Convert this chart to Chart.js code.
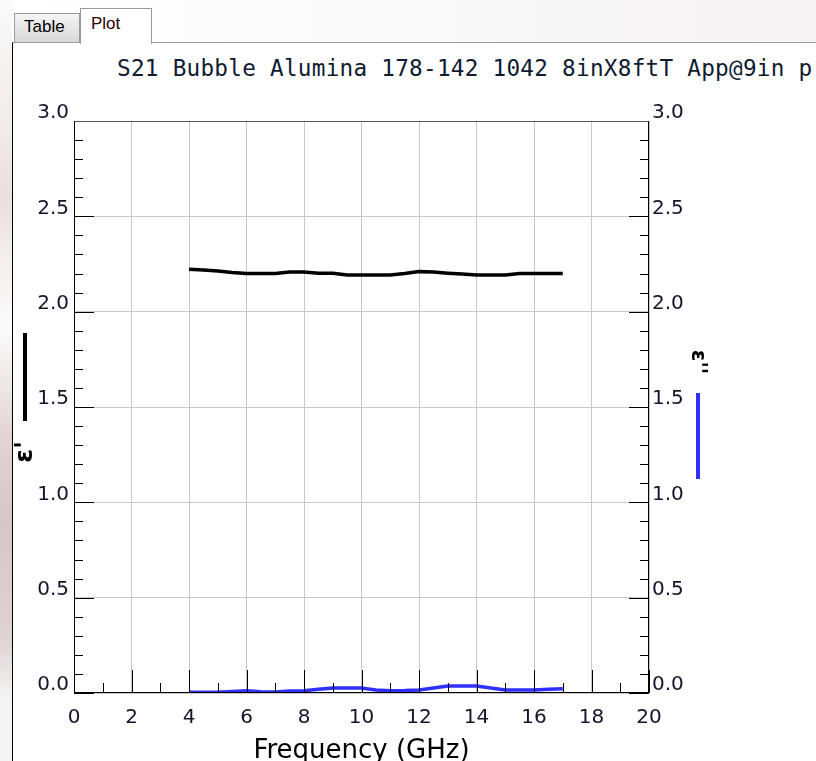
<!DOCTYPE html>
<html lang="en">
<head>
<meta charset="UTF-8">
<title>S21 Bubble Alumina plot</title>
<script src="https://cdn.jsdelivr.net/npm/chart.js@4.4.0/dist/chart.umd.min.js"></script>
<style>
  html, body { margin: 0; padding: 0; }
  body { width: 816px; height: 761px; overflow: hidden; position: relative; background: #fff;
         font-family: "Liberation Sans", Arial, sans-serif; }
  .edge { position: absolute; left: 0; top: 0; width: 12px; height: 761px;
          background: linear-gradient(to bottom, #fafafa 0px, #f2eaea 130px, #ebdede 200px, #f5efef 260px,
                      #fbfbfb 330px, #e4d6d6 430px, #d6c6c6 520px, #e0d3d3 640px, #f4f4f4 700px); }
  .strip { position: absolute; left: 12px; top: 0; width: 804px; height: 42px;
           background: linear-gradient(to right, #ffffff, #f5f3f3); }
  .panel { position: absolute; left: 12px; top: 42px; width: 820px; height: 740px; background: #fff;
           border-left: 1px solid #000; border-top: 1px solid #a0a0a0; }
  .tab { position: absolute; border: 1px solid #9a9a9a; border-bottom: none; font-size: 17px; color: #000;
         box-sizing: border-box; }
  .tab.table { left: 14px; top: 13px; width: 66px; height: 29px; padding-left: 9px; line-height: 26px;
               background: linear-gradient(#f4f4f4, #d8d8d8); }
  .tab.plot { left: 80px; top: 8px; width: 72px; height: 36px; padding-left: 10px; line-height: 30px;
              background: #fff; color: #2a0000; z-index: 2; }
  .title { position: absolute; left: 117px; top: 57px; white-space: nowrap; letter-spacing: 0.25px;
           font-family: "DejaVu Sans Mono", "Liberation Mono", monospace; font-size: 22.7px; line-height: 22.7px;
           color: #101a30; z-index: 3; }
  canvas { position: absolute; left: 0; top: 0; z-index: 4; }
</style>
</head>
<body>
  <div class="edge"></div>
  <div class="strip"></div>
  <div class="panel"></div>
  <div class="tab table">Table</div>
  <div class="tab plot">Plot</div>
  <div class="title">S21 Bubble Alumina 178-142 1042 8inX8ftT App@9in p</div>
  <canvas id="myChart" width="816" height="761"></canvas>

<script>
// frequency points (GHz)
var freqGHz = [4, 4.5, 5, 5.5, 6, 6.5, 7, 7.5, 8, 8.5, 9, 9.5, 10, 10.5, 11,
               11.5, 12, 12.5, 13, 13.5, 14, 14.5, 15, 15.5, 16, 16.5, 17];
// e' (real permittivity)
var epsReal = [2.223, 2.218, 2.213, 2.205, 2.200, 2.200, 2.200, 2.208, 2.208, 2.202, 2.202, 2.192, 2.192, 2.192,
               2.192, 2.200, 2.210, 2.208, 2.202, 2.197, 2.192, 2.192, 2.192, 2.200, 2.200, 2.200, 2.200];
// e'' (imaginary permittivity)
var epsImag = [0.004, 0.004, 0.004, 0.008, 0.012, 0.006, 0.005, 0.010, 0.012, 0.020, 0.026, 0.026, 0.026, 0.016,
               0.012, 0.013, 0.016, 0.026, 0.037, 0.037, 0.037, 0.026, 0.016, 0.016, 0.016, 0.020, 0.022];

var xTickValues = [0, 2, 4, 6, 8, 10, 12, 14, 16, 18, 20];
var yTickValues = [0.0, 0.5, 1.0, 1.5, 2.0, 2.5, 3.0];

var tickFont = { family: 'DejaVu Sans', size: 20 };
var tickColor = '#14142a';

function pts(ys) {
  return freqGHz.map(function (f, i) { return { x: f, y: ys[i] }; });
}

function setTicks(values) {
  return function (scale) {
    scale.ticks = values.map(function (v) { return { value: v }; });
  };
}

// inward tick marks, plot frame and the axis legends
var frameTicks = {
  id: 'frameTicks',
  afterDraw: function (chart) {
    var ctx = chart.ctx, a = chart.chartArea;
    var xs = chart.scales.x, ys = chart.scales.y;
    ctx.save();
    ctx.strokeStyle = '#000';
    ctx.lineWidth = 1;
    ctx.beginPath();
    for (var i = 0; i <= 30; i++) {
      var py = Math.round(ys.getPixelForValue(i / 10)) + 0.5;
      var len = (i % 5 === 0) ? 20 : 9;
      ctx.moveTo(a.left, py); ctx.lineTo(a.left + len, py);
      ctx.moveTo(a.right, py); ctx.lineTo(a.right - len, py);
    }
    for (var j = 0; j <= 20; j++) {
      var px = Math.round(xs.getPixelForValue(j)) + 0.5;
      var l2 = (j % 2 === 0) ? 23 : 10;
      ctx.moveTo(px, a.bottom); ctx.lineTo(px, a.bottom - l2);
    }
    ctx.stroke();

    // frame
    var L = Math.round(a.left) + 0.5, R = Math.round(a.right) - 0.5;
    var T = Math.round(a.top) + 0.5, B = Math.round(a.bottom) - 0.5;
    ctx.strokeStyle = '#555';
    ctx.beginPath(); ctx.moveTo(L, T); ctx.lineTo(R, T); ctx.stroke();
    ctx.strokeStyle = '#000';
    ctx.beginPath();
    ctx.moveTo(L, T); ctx.lineTo(L, B); ctx.lineTo(R, B); ctx.lineTo(R, T);
    ctx.stroke();

    // left axis legend: black swatch + e'
    ctx.lineWidth = 4;
    ctx.strokeStyle = '#000';
    ctx.beginPath(); ctx.moveTo(25, 333); ctx.lineTo(25, 421); ctx.stroke();
    ctx.fillStyle = '#000';
    ctx.font = 'bold 25px "DejaVu Sans"';
    ctx.textAlign = 'center';
    ctx.textBaseline = 'alphabetic';
    ctx.save();
    ctx.translate(32, 452);
    ctx.rotate(-Math.PI / 2);
    ctx.fillText("\u03b5'", 0, 0);
    ctx.restore();

    // right axis legend: e'' + blue swatch
    ctx.save();
    ctx.translate(692, 362);
    ctx.rotate(Math.PI / 2);
    ctx.font = 'bold 21px "DejaVu Sans"';
    ctx.fillText("\u03b5''", 0, 0);
    ctx.restore();
    ctx.strokeStyle = '#2f2fff';
    ctx.beginPath(); ctx.moveTo(698, 393); ctx.lineTo(698, 479); ctx.stroke();
    ctx.restore();
  }
};

var ctx = document.getElementById('myChart').getContext('2d');

var myChart = new Chart(ctx, {
  type: 'line',
  data: {
    datasets: [{
      label: "\u03b5'",
      data: pts(epsReal),
      borderColor: '#000',
      borderWidth: 3.5,
      pointRadius: 0,
      yAxisID: 'y'
    }, {
      label: "\u03b5''",
      data: pts(epsImag),
      borderColor: '#2f2fff',
      borderWidth: 3.5,
      pointRadius: 0,
      yAxisID: 'y2'
    }]
  },
  options: {
    responsive: false,
    animation: false,
    layout: { padding: { top: 121, left: 0, right: 0, bottom: 0 } },
    plugins: { legend: { display: false }, title: { display: false }, tooltip: { enabled: false } },
    scales: {
      x: {
        type: 'linear', min: 0, max: 20,
        afterBuildTicks: setTicks(xTickValues),
        afterFit: function (s) { s.height = 68; },
        grid: { color: '#c8c8c8', drawTicks: false },
        border: { display: false },
        ticks: { font: tickFont, color: tickColor, padding: 13, maxRotation: 0 },
        title: { display: true, text: 'Frequency (GHz)', color: '#000',
                 font: { family: 'DejaVu Sans', size: 26, lineHeight: 1 }, padding: { top: 0, bottom: -3 } }
      },
      y: {
        position: 'left', min: 0, max: 3,
        afterBuildTicks: setTicks(yTickValues),
        afterFit: function (s) { s.width = 74; },
        grid: { color: '#c8c8c8', drawTicks: false },
        border: { display: false },
        ticks: { font: tickFont, color: tickColor, padding: 5, labelOffset: -8,
                 callback: function (v) { return v.toFixed(1); } }
      },
      y2: {
        position: 'right', min: 0, max: 3,
        afterBuildTicks: setTicks(yTickValues),
        afterFit: function (s) { s.width = 167; },
        grid: { display: false, drawTicks: false },
        border: { display: false },
        ticks: { font: tickFont, color: tickColor, padding: 3, labelOffset: -8,
                 callback: function (v) { return v.toFixed(1); } }
      }
    }
  },
  plugins: [frameTicks]
});
</script>
</body>
</html>
